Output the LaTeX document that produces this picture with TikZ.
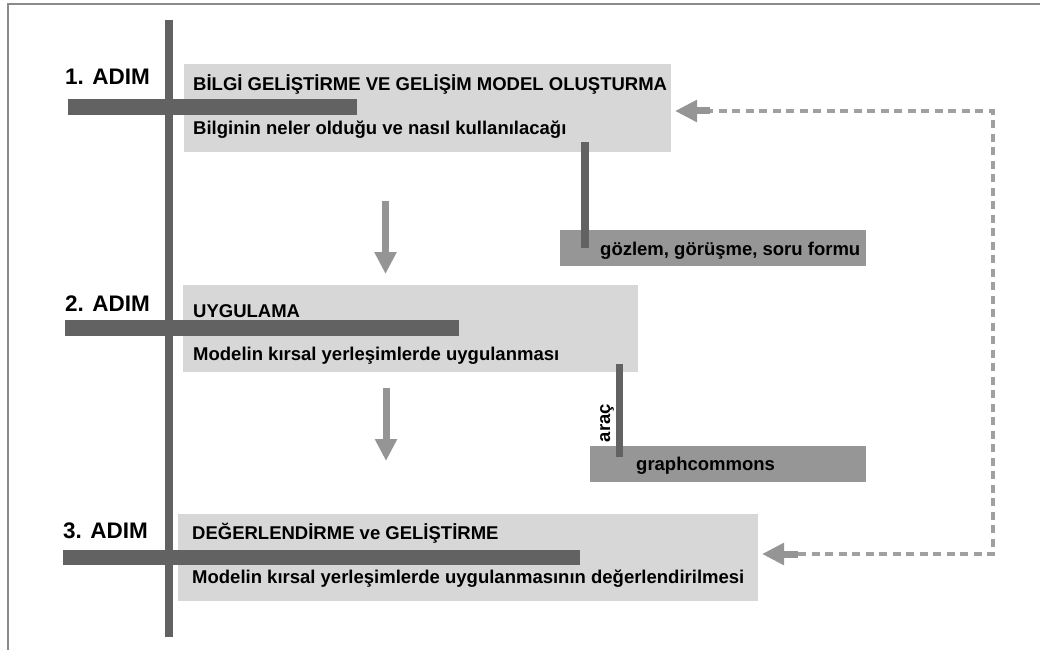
\documentclass[tikz,border=0pt]{standalone}
\usepackage{fontspec}
\setmainfont{Liberation Sans}
\usetikzlibrary{arrows.meta}
\definecolor{boxlight}{HTML}{D7D7D7}
\definecolor{bardark}{HTML}{626262}
\definecolor{boxmid}{HTML}{969696}
\definecolor{arrowgray}{HTML}{959595}
\definecolor{dashgray}{HTML}{A0A0A0}
\definecolor{framegray}{HTML}{8A8A8A}
\tikzset{
  lightbox/.style={fill=boxlight, draw=none, anchor=north west, inner sep=0pt},
  midbox/.style={fill=boxmid, draw=none, anchor=north west, inner sep=0pt},
  darkbar/.style={fill=bardark, draw=none, anchor=north west, inner sep=0pt},
  txt/.style={anchor=base west, inner sep=0pt, font=\fontsize{18.5}{22}\selectfont\bfseries},
  steplabel/.style={anchor=base west, inner sep=0pt, font=\fontsize{22.5}{26}\selectfont\bfseries},
  downarrow/.style={draw=arrowgray, line width=7pt, -{Triangle[length=22pt,width=21pt]}},
  backhead/.style={draw=arrowgray, line width=7pt, -{Triangle[length=22pt,width=21pt]}},
  backdash/.style={draw=dashgray, line width=3.2pt, dash pattern=on 8pt off 5.5pt},
  linkbar/.style={draw=bardark, line width=7.5pt},
}
\begin{document}
\begin{tikzpicture}[x=1pt,y=-1pt]
\useasboundingbox (0,0) rectangle (1040,650);
% frame
\draw[framegray, line width=2pt] (8,650) -- (8,4) -- (1040,4);
% light boxes
\node[lightbox, minimum width=487pt, minimum height=88pt] (box1) at (184,64) {};
\node[lightbox, minimum width=455pt, minimum height=87pt] (box2) at (183,285) {};
\node[lightbox, minimum width=580pt, minimum height=87pt] (box3) at (178,514) {};
% mid boxes
\node[midbox, minimum width=306pt, minimum height=36pt] (tools) at (560,230) {};
\node[midbox, minimum width=276pt, minimum height=36pt] (gc) at (590,446) {};
% horizontal bars
\node[darkbar, minimum width=289pt, minimum height=16pt] (bar1) at (68,99) {};
\node[darkbar, minimum width=394pt, minimum height=16pt] (bar2) at (65,320) {};
\node[darkbar, minimum width=517pt, minimum height=15pt] (bar3) at (63,550) {};
% main vertical bar
\node[darkbar, minimum width=8pt, minimum height=617pt] (axis) at (165,20) {};
% link bars
\coordinate (l1a) at (585,142);
\coordinate (l1b) at (585,248);
\coordinate (l2a) at (619.5,364);
\coordinate (l2b) at (619.5,457);
\draw[linkbar] (l1a) -- (l1b);
\draw[linkbar] (l2a) -- (l2b);
% step labels
\node[steplabel] (s1) at (65,85) {1. ADIM};
\node[steplabel] (s2) at (65,311) {2. ADIM};
\node[steplabel] (s3) at (63,538) {3. ADIM};
% texts
\node[txt] (t1) at (193,90.5) {BİLGİ GELİŞTİRME VE GELİŞİM MODEL OLUŞTURMA};
\node[txt] (d1) at (193,134) {Bilginin neler olduğu ve nasıl kullanılacağı};
\node[txt] (t2) at (193,317.5) {UYGULAMA};
\node[txt] (d2) at (193,360) {Modelin kırsal yerleşimlerde uygulanması};
\node[txt] (t3) at (192,539.5) {DEĞERLENDİRME ve GELİŞTİRME};
\node[txt] (d3) at (192,583) {Modelin kırsal yerleşimlerde uygulanmasının değerlendirilmesi};
\node[txt] (tt) at (600,255.5) {gözlem, görüşme, soru formu};
\node[txt] (gt) at (636,470.5) {graphcommons};
\node[txt, anchor=center, rotate=90] (arac) at (607,423) {araç};
% down arrows
\coordinate (a1s) at (385.5,201);
\coordinate (a1e) at (385.5,274);
\coordinate (a2s) at (386,388);
\coordinate (a2e) at (386,461);
\draw[downarrow] (a1s) -- (a1e);
\draw[downarrow] (a2s) -- (a2e);
% feedback dashed connector
\coordinate (fbA) at (993,554);
\coordinate (fbB) at (993,111);
\coordinate (h3s) at (798,554);
\coordinate (h3e) at (762,554);
\coordinate (h1s) at (710,111);
\coordinate (h1e) at (675,111);
\draw[backdash] (h3s) -- (fbA) -- (fbB) -- (h1s);
\draw[backhead] (h3s) -- (h3e);
\draw[backhead] (h1s) -- (h1e);
\end{tikzpicture}
\end{document}
